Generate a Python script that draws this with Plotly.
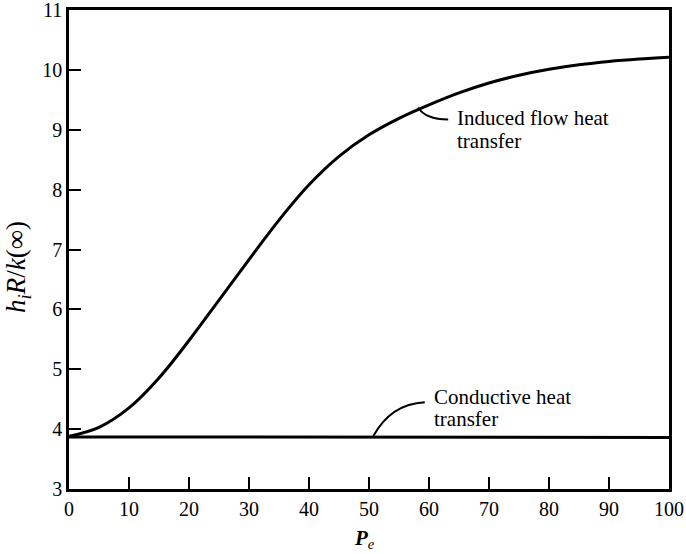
import plotly.graph_objects as go

# Induced-flow heat transfer coefficient versus Peclet number
pe_induced = [0, 5, 10, 15, 20, 25, 30, 35, 40, 45, 50, 55, 60, 65, 70, 75, 80, 85, 90, 95, 100]
nu_induced = [3.88, 4.03, 4.355, 4.855, 5.48, 6.155, 6.83, 7.49, 8.08, 8.555, 8.915, 9.19,
              9.415, 9.615, 9.78, 9.91, 10.01, 10.085, 10.14, 10.18, 10.21]

# Pure conduction level
pe_conductive = [0, 100]
nu_conductive = [3.87, 3.86]

x_ticks = [0, 10, 20, 30, 40, 50, 60, 70, 80, 90, 100]
y_ticks = [3, 4, 5, 6, 7, 8, 9, 10, 11]

SERIF = "Liberation Serif, Times New Roman, serif"

fig = go.Figure()
fig.add_trace(go.Scatter(x=pe_induced, y=nu_induced, mode="lines",
                         line=dict(color="black", width=3, shape="spline", smoothing=1.0),
                         showlegend=False, hoverinfo="skip"))
fig.add_trace(go.Scatter(x=pe_conductive, y=nu_conductive, mode="lines",
                         line=dict(color="black", width=3),
                         showlegend=False, hoverinfo="skip"))

# Curved leader lines from the labels to the curves
fig.add_shape(type="path", xref="x", yref="y",
              path="M 58.2,9.37 Q 59.4,9.17 63.2,9.17",
              line=dict(color="black", width=2))
fig.add_shape(type="path", xref="x", yref="y",
              path="M 50.7,3.88 Q 53.6,4.42 59.3,4.45",
              line=dict(color="black", width=2))


def label_lines(x0, y_positions, lines):
    """Left-aligned multi-line label with tight line spacing."""
    for yv, txt in zip(y_positions, lines):
        fig.add_annotation(x=x0, y=yv, xref="x", yref="y", xanchor="left", yanchor="middle",
                           text=txt, showarrow=False,
                           font=dict(family=SERIF, size=21, color="black"))


label_lines(64.3, [9.19, 8.82], ["Induced flow heat", "transfer"])
label_lines(60.45, [4.535, 4.165], ["Conductive heat", "transfer"])

# Axis titles
fig.add_annotation(x=-0.085, y=0.4635, xref="paper", yref="paper",
                   xanchor="center", yanchor="middle",
                   text="<i>h<sub>i</sub>R</i>/<i>k</i>(∞)", textangle=-90, showarrow=False,
                   font=dict(family=SERIF, size=27, color="black"))
fig.add_annotation(x=0.4917, y=-0.104, xref="paper", yref="paper",
                   xanchor="center", yanchor="middle",
                   text="<i><b>P</b><sub>e</sub></i>", showarrow=False,
                   font=dict(family=SERIF, size=21, color="black"))

axis_common = dict(showline=True, linecolor="black", linewidth=2.5, mirror=True,
                   ticks="inside", ticklen=12, tickwidth=2, tickcolor="black",
                   showgrid=False, zeroline=False, automargin=False,
                   ticklabeloverflow="allow",
                   tickfont=dict(family=SERIF, size=20, color="black"))

fig.update_xaxes(range=[0, 100], tickvals=x_ticks, ticktext=[str(v) for v in x_ticks],
                 **axis_common)
fig.update_yaxes(range=[3, 11], tickvals=y_ticks, ticktext=[str(v) for v in y_ticks],
                 **axis_common)

fig.update_layout(width=686, height=554, margin=dict(l=69, r=17, t=10, b=65),
                  paper_bgcolor="white", plot_bgcolor="white")

fig.write_html("out.html")
